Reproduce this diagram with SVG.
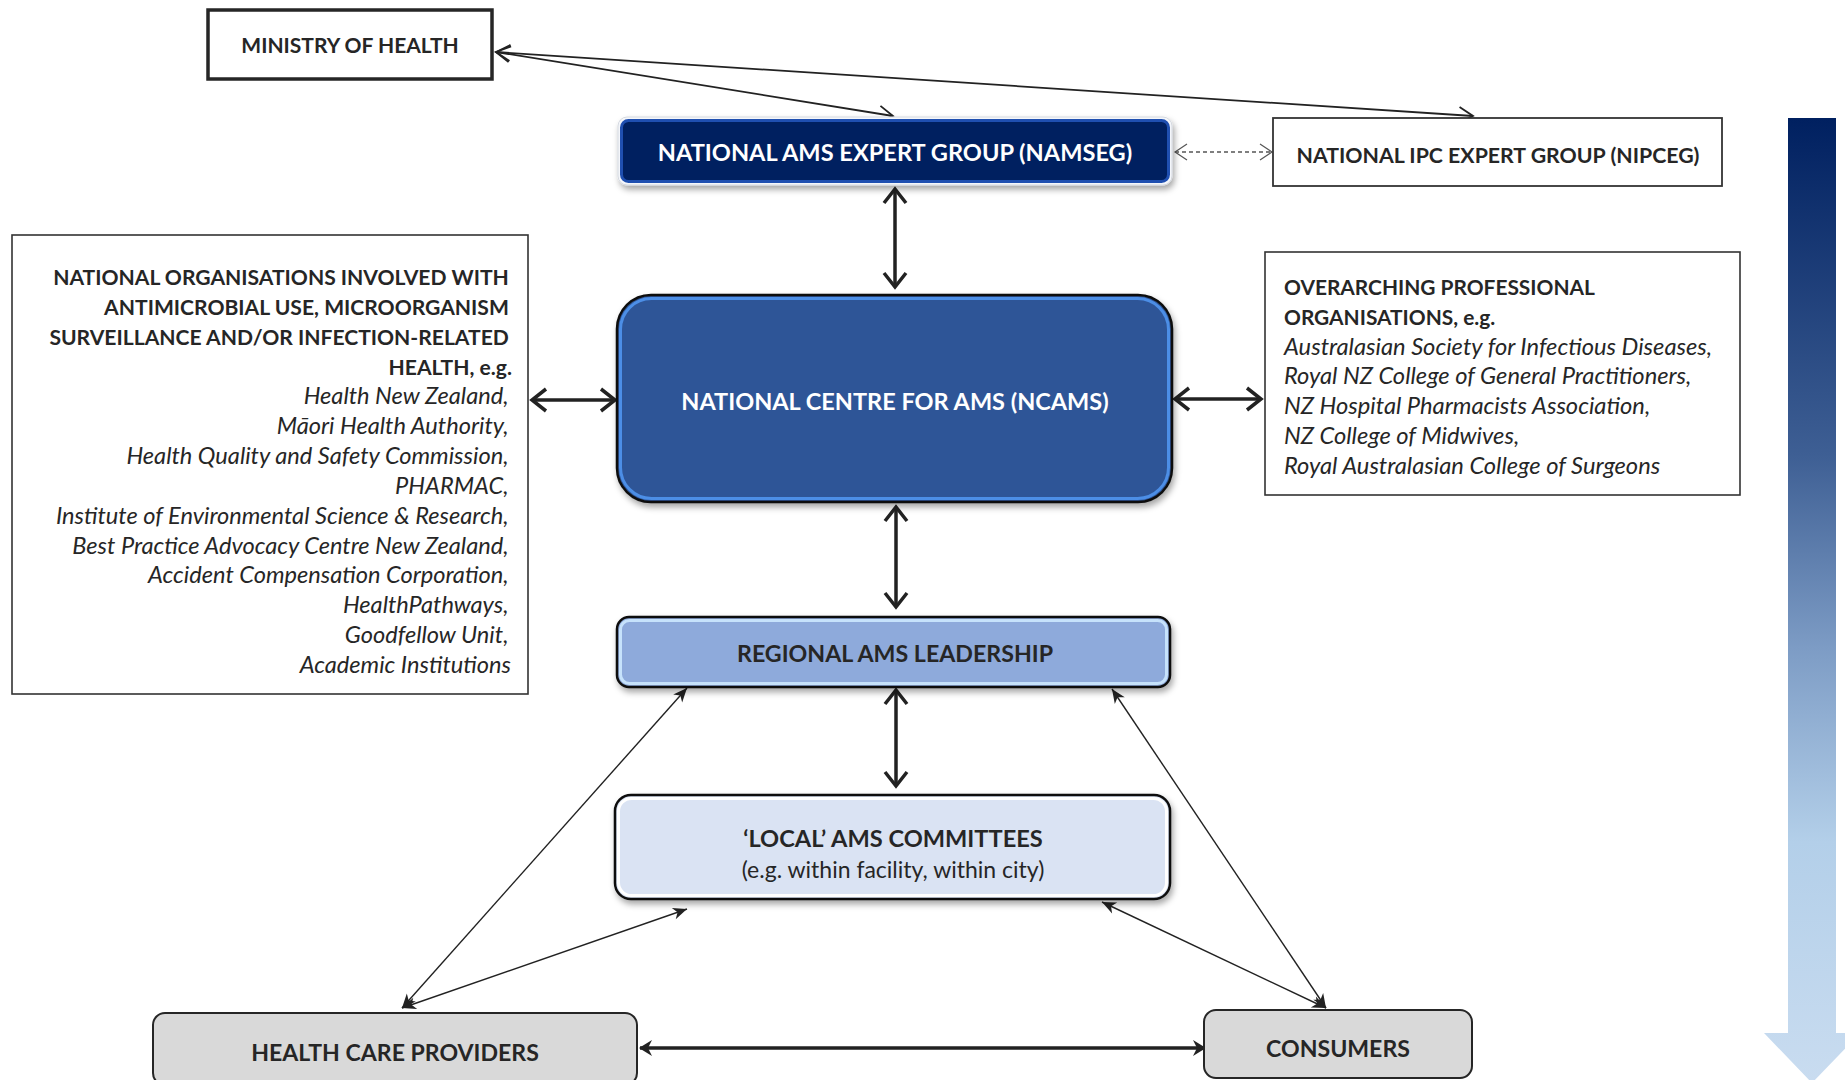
<svg xmlns="http://www.w3.org/2000/svg" width="1845" height="1080" viewBox="0 0 1845 1080">
<style>
.t{font-family:Lato,"Open Sans","Liberation Sans",sans-serif;fill:#262626}
.b{font-weight:bold}
.i{font-style:italic}
.w{fill:#ffffff}
.c{text-anchor:middle}
.e{text-anchor:end}
.thin{stroke:#222;stroke-width:1.8;fill:none}
.thick{stroke:#222;stroke-width:3.5;fill:none}
.diag{stroke:#222;stroke-width:1.4;fill:none}
.plain{fill:#ffffff;stroke:#333;stroke-width:1.6}
</style>
<defs>
<filter id="sh" x="-10%" y="-10%" width="120%" height="130%">
<feDropShadow dx="2" dy="4" stdDeviation="3" flood-color="#000" flood-opacity="0.35"/>
</filter>
<linearGradient id="grad" x1="0" y1="0" x2="0" y2="1">
<stop offset="0" stop-color="#002060"/>
<stop offset="0.35" stop-color="#3e5f94"/>
<stop offset="0.55" stop-color="#7d9cc5"/>
<stop offset="0.75" stop-color="#b3cfe9"/>
<stop offset="1" stop-color="#c9dcf0"/>
</linearGradient>
<marker id="vThin" viewBox="-16 -10 18 20" refX="0" refY="0" markerWidth="18" markerHeight="20" markerUnits="userSpaceOnUse" orient="auto-start-reverse">
<path d="M-14,-8 L0,0 L-14,8" fill="none" stroke="#222" stroke-width="1.8"/>
</marker>
<marker id="vDash" viewBox="-14 -10 16 20" refX="0" refY="0" markerWidth="16" markerHeight="20" markerUnits="userSpaceOnUse" orient="auto-start-reverse">
<path d="M-12,-8 L0,0 L-12,8" fill="none" stroke="#555" stroke-width="1.2"/>
</marker>
<marker id="vThick" viewBox="-18 -14 21 28" refX="0" refY="0" markerWidth="21" markerHeight="28" markerUnits="userSpaceOnUse" orient="auto-start-reverse">
<path d="M-14,-11 L0,0 L-14,11" fill="none" stroke="#222" stroke-width="3.5"/>
</marker>
<marker id="st" viewBox="-16 -8 18 16" refX="0" refY="0" markerWidth="18" markerHeight="16" markerUnits="userSpaceOnUse" orient="auto-start-reverse">
<path d="M0,0 L-14,-6 L-10,0 L-14,6 Z" fill="#222"/>
</marker>
<marker id="stBig" viewBox="-16 -10 18 20" refX="0" refY="0" markerWidth="18" markerHeight="20" markerUnits="userSpaceOnUse" orient="auto-start-reverse">
<path d="M1,0 L-12,-8 L-8,0 L-12,8 Z" fill="#222"/>
</marker>
</defs>
<rect width="1845" height="1080" fill="#ffffff"/>

<g id="hierarchy-arrow">
<polygon points="1788,118 1836,118 1836,1033 1860,1033 1812,1083 1764,1033 1788,1033" fill="url(#grad)"/>
</g>

<g id="connectors">
<line class="thin" x1="496" y1="52" x2="893" y2="116" marker-start="url(#vThin)" marker-end="url(#vThin)"/>
<line class="thin" x1="496" y1="52" x2="1473" y2="116" marker-start="url(#vThin)" marker-end="url(#vThin)"/>
<line x1="1175" y1="152" x2="1272" y2="152" stroke="#555" stroke-width="1.3" stroke-dasharray="4,3" marker-start="url(#vDash)" marker-end="url(#vDash)"/>
<line class="thick" x1="895" y1="189" x2="895" y2="287" marker-start="url(#vThick)" marker-end="url(#vThick)"/>
<line class="thick" x1="532" y1="400" x2="615" y2="400" marker-start="url(#vThick)" marker-end="url(#vThick)"/>
<line class="thick" x1="1175" y1="399" x2="1261" y2="399" marker-start="url(#vThick)" marker-end="url(#vThick)"/>
<line class="thick" x1="896" y1="507" x2="896" y2="607" marker-start="url(#vThick)" marker-end="url(#vThick)"/>
<line class="thick" x1="896" y1="690" x2="896" y2="786" marker-start="url(#vThick)" marker-end="url(#vThick)"/>
<line class="diag" x1="687" y1="688" x2="402" y2="1008" marker-start="url(#st)" marker-end="url(#st)"/>
<line class="diag" x1="687" y1="909" x2="402" y2="1008" marker-start="url(#st)" marker-end="url(#st)"/>
<line class="diag" x1="1112" y1="689" x2="1326" y2="1008" marker-start="url(#st)" marker-end="url(#st)"/>
<line class="diag" x1="1102" y1="902" x2="1326" y2="1008" marker-start="url(#st)" marker-end="url(#st)"/>
<line class="thick" x1="640" y1="1048" x2="1205" y2="1048" marker-start="url(#stBig)" marker-end="url(#stBig)"/>
</g>

<g id="ministry">
<rect x="208" y="10" width="284" height="69" fill="#ffffff" stroke="#262626" stroke-width="3.5"/>
<text class="t b c" x="350" y="53" font-size="21">MINISTRY OF HEALTH</text>
</g>

<g id="namseg">
<rect x="618" y="117" width="554" height="68" rx="9" fill="#f4f6fa" stroke="#d5d9e0" stroke-width="1" filter="url(#sh)"/>
<rect x="621.5" y="120.5" width="547" height="61" rx="7" fill="#002060" stroke="#1f4fb0" stroke-width="3"/>
<text class="t b c w" x="895" y="160.5" font-size="23.6">NATIONAL AMS EXPERT GROUP (NAMSEG)</text>
</g>

<g id="nipceg">
<rect x="1273" y="118" width="449" height="68" fill="#ffffff" stroke="#333" stroke-width="1.8"/>
<text class="t b c" x="1498" y="163" font-size="21.3">NATIONAL IPC EXPERT GROUP (NIPCEG)</text>
</g>

<g id="national-organisations">
<rect class="plain" x="12" y="235" width="516" height="459"/>
<text class="t b e" font-size="21.1">
<tspan x="514" y="285">NATIONAL ORGANISATIONS INVOLVED WITH</tspan>
<tspan x="514" y="315">ANTIMICROBIAL USE, MICROORGANISM</tspan>
<tspan x="514" y="345">SURVEILLANCE AND/OR INFECTION-RELATED</tspan>
<tspan x="512" y="375">HEALTH, e.g.</tspan>
</text>
<text class="t i e" font-size="23.6">
<tspan x="514" y="404">Health New Zealand,</tspan>
<tspan x="514" y="434">Māori Health Authority,</tspan>
<tspan x="514" y="464">Health Quality and Safety Commission,</tspan>
<tspan x="514" y="494">PHARMAC,</tspan>
<tspan x="514" y="524">Institute of Environmental Science &amp; Research,</tspan>
<tspan x="514" y="554">Best Practice Advocacy Centre New Zealand,</tspan>
<tspan x="514" y="583">Accident Compensation Corporation,</tspan>
<tspan x="514" y="613">HealthPathways,</tspan>
<tspan x="514" y="643">Goodfellow Unit,</tspan>
<tspan x="511" y="673">Academic Institutions</tspan>
</text>
</g>

<g id="ncams">
<rect x="617" y="295" width="555" height="207" rx="34" fill="#2f5597" stroke="#111" stroke-width="2.5" filter="url(#sh)"/>
<rect x="620.5" y="298.5" width="548" height="200" rx="31" fill="none" stroke="#4c8ee6" stroke-width="3"/>
<text class="t b c w" x="895" y="409.5" font-size="23.5">NATIONAL CENTRE FOR AMS (NCAMS)</text>
</g>

<g id="professional-organisations">
<rect class="plain" x="1265" y="252" width="475" height="243"/>
<text class="t b" font-size="20.9">
<tspan x="1284" y="295">OVERARCHING PROFESSIONAL</tspan>
<tspan x="1284" y="325">ORGANISATIONS, e.g.</tspan>
</text>
<text class="t i" font-size="23.7">
<tspan x="1284" y="355">Australasian Society for Infectious Diseases,</tspan>
<tspan x="1284" y="384">Royal NZ College of General Practitioners,</tspan>
<tspan x="1284" y="414">NZ Hospital Pharmacists Association,</tspan>
<tspan x="1284" y="444">NZ College of Midwives,</tspan>
<tspan x="1284" y="474">Royal Australasian College of Surgeons</tspan>
</text>
</g>

<g id="regional">
<rect x="617" y="617" width="553" height="70" rx="12" fill="#8eaadb" stroke="#111" stroke-width="2.5" filter="url(#sh)"/>
<rect x="620.5" y="620.5" width="546" height="63" rx="9" fill="none" stroke="#c6e2fb" stroke-width="3"/>
<text class="t b c" x="895" y="661.5" font-size="23.2">REGIONAL AMS LEADERSHIP</text>
</g>

<g id="local">
<rect x="615" y="795" width="555" height="104" rx="16" fill="#dae3f3" stroke="#111" stroke-width="2.5" filter="url(#sh)"/>
<rect x="618.5" y="798.5" width="548" height="97" rx="13" fill="none" stroke="#ffffff" stroke-width="3"/>
<text class="t b c" x="893" y="846.5" font-size="23.6">‘LOCAL’ AMS COMMITTEES</text>
<text class="t c" x="893" y="878" font-size="23">(e.g. within facility, within city)</text>
</g>

<g id="health-care-providers">
<rect x="153" y="1013" width="484" height="72" rx="12" fill="#d9d9d9" stroke="#262626" stroke-width="2"/>
<text class="t b c" x="395" y="1060.5" font-size="23.1">HEALTH CARE PROVIDERS</text>
</g>

<g id="consumers">
<rect x="1204" y="1010" width="268" height="68" rx="12" fill="#d9d9d9" stroke="#262626" stroke-width="2"/>
<text class="t b c" x="1338" y="1056.5" font-size="23.1">CONSUMERS</text>
</g>
</svg>
